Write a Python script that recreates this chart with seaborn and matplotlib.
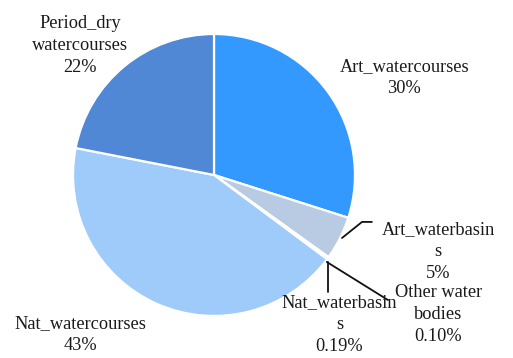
import matplotlib
matplotlib.use("Agg")
import matplotlib.pyplot as plt
import seaborn as sns

# Share of water body types
categories = ["Art_watercourses", "Art_waterbasins", "Other water bodies",
              "Nat_waterbasins", "Nat_watercourses", "Period_dry watercourses"]
shares = [30, 5, 0.10, 0.19, 43, 22]
label_texts = ["Art_watercourses\n30%", "Art_waterbasin\ns\n5%",
               "Other water\nbodies\n0.10%", "Nat_waterbasin\ns\n0.19%",
               "Nat_watercourses\n43%", "Period_dry\nwatercourses\n22%"]
colors = ["#3399FF", "#B9CBE3", "#9FC9F5", "#8FBFF2", "#9ECBFA", "#5088D6"]

sns.set_theme(style="white")
plt.rcParams["font.family"] = ["Liberation Serif", "DejaVu Serif"]

fig = plt.figure(figsize=(5.13, 3.58), dpi=100)
ax = fig.add_axes([0, 0, 1, 1])

ax.pie(shares, colors=colors, startangle=90, counterclock=False,
       radius=1.0, center=(0, 0),
       wedgeprops=dict(edgecolor="white", linewidth=1.6))

# Label positions (pie units)
label_pos = [(1.35, 0.69), (1.59, -0.54), (1.59, -0.99),
             (0.89, -1.06), (-0.95, -1.13), (-0.95, 0.92)]
for txt, (x, y) in zip(label_texts, label_pos):
    ax.text(x, y, txt, ha="center", va="center", fontsize=13.2,
            color="#1a1a1a", linespacing=1.38)

# Leader lines for the small slices
ax.plot([0.908, 1.05, 1.12], [-0.447, -0.333, -0.333], color="#111111", lw=1.3)
ax.plot([0.80, 1.234], [-0.617, -0.887], color="#111111", lw=1.3)
ax.plot([0.81, 0.81], [-0.617, -0.83], color="#111111", lw=1.3)

ax.set_xlim(-1.518, 2.121)
ax.set_ylim(-1.298, 1.241)
ax.set_aspect("equal")
ax.axis("off")

fig.savefig("out.png", dpi=100, facecolor="white")
